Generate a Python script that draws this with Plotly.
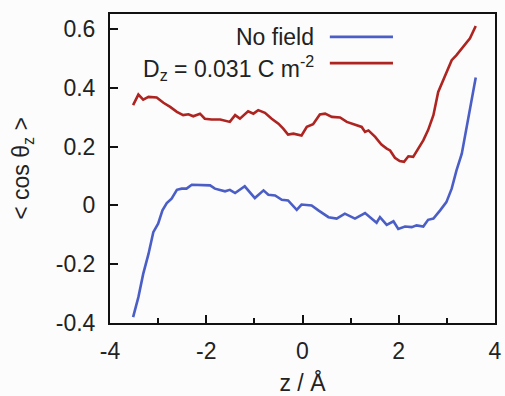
import plotly.graph_objects as go

z_nofield = [-3.52, -3.41, -3.31, -3.20, -3.10, -3.00, -2.91, -2.82, -2.72, -2.61, -2.51, -2.41,
             -2.30, -2.13, -1.92, -1.82, -1.71, -1.61, -1.51, -1.40, -1.20, -0.99, -0.81, -0.71,
             -0.57, -0.43, -0.30, -0.12, -0.02, 0.19, 0.33, 0.54, 0.71, 0.88, 1.09, 1.30, 1.44,
             1.54, 1.61, 1.75, 1.89, 1.99, 2.13, 2.27, 2.37, 2.51, 2.61, 2.72, 2.86, 2.99, 3.10,
             3.20, 3.31, 3.41, 3.51, 3.60]
cos_nofield = [-0.380, -0.312, -0.233, -0.165, -0.091, -0.062, -0.017, 0.008, 0.023, 0.053, 0.057, 0.057,
               0.070, 0.070, 0.068, 0.057, 0.053, 0.048, 0.053, 0.042, 0.065, 0.025, 0.051, 0.036,
               0.034, 0.019, 0.017, -0.015, 0.003, 0.000, -0.017, -0.040, -0.045, -0.028, -0.045, -0.026, -0.045,
               -0.059, -0.040, -0.066, -0.054, -0.080, -0.072, -0.074, -0.068, -0.072, -0.049, -0.045, -0.017, 0.011, 0.057,
               0.119, 0.176, 0.267, 0.358, 0.435]

z_field = [-3.52, -3.41, -3.31, -3.20, -3.03, -2.89, -2.75, -2.61, -2.48, -2.37, -2.27, -2.13, -2.03,
           -1.89, -1.71, -1.51, -1.40, -1.30, -1.13, -1.02, -0.92, -0.78, -0.64, -0.50, -0.40, -0.30,
           -0.19, -0.02, 0.09, 0.22, 0.36, 0.47, 0.61, 0.78, 0.92, 1.09, 1.23, 1.30, 1.37, 1.51, 1.64,
           1.75, 1.82, 1.92, 2.02, 2.11, 2.20, 2.30, 2.41, 2.51, 2.61, 2.72, 2.82, 2.96, 3.10, 3.20,
           3.34, 3.48, 3.60]
cos_field = [0.341, 0.377, 0.360, 0.369, 0.367, 0.349, 0.335, 0.318, 0.307, 0.310, 0.303, 0.312, 0.295,
             0.292, 0.292, 0.284, 0.307, 0.295, 0.320, 0.312, 0.324, 0.315, 0.295, 0.278, 0.261, 0.241,
             0.244, 0.238, 0.267, 0.276, 0.309, 0.312, 0.301, 0.299, 0.284, 0.275, 0.267, 0.250, 0.255, 0.233, 0.207,
             0.193, 0.187, 0.162, 0.151, 0.148, 0.167, 0.165, 0.193, 0.221, 0.256, 0.307, 0.386, 0.437, 0.494, 0.511,
             0.540, 0.568, 0.610]

x_ticks = [-4, -2, 0, 2, 4]
x_ticklabels = ["-4", "-2", "0", "2", "4"]
y_ticks = [-0.4, -0.2, 0, 0.2, 0.4, 0.6]
y_ticklabels = ["-0.4", "-0.2", "0", "0.2", "0.4", "0.6"]

BLUE = "#4a5ec6"
RED = "#ad2420"
FONT = "Liberation Sans, Arial, sans-serif"
FS = 23

fig = go.Figure()
fig.add_trace(go.Scatter(x=z_nofield, y=cos_nofield, mode="lines",
                         line=dict(color=BLUE, width=2.6), name="No field", showlegend=False))
fig.add_trace(go.Scatter(x=z_field, y=cos_field, mode="lines",
                         line=dict(color=RED, width=2.6), name="field", showlegend=False))

# legend (text left, sample line right)
fig.add_annotation(x=0.535, y=0.926, xref="paper", yref="paper", xanchor="right", yanchor="middle",
                   text="No field", showarrow=False, font=dict(size=FS, color="#222", family=FONT))
fig.add_annotation(x=0.535, y=0.826, xref="paper", yref="paper", xanchor="right", yanchor="middle",
                   text="D<sub>z</sub> = 0.031 C m<sup>-2</sup>", showarrow=False,
                   font=dict(size=FS, color="#222", family=FONT))
fig.add_shape(type="line", xref="paper", yref="paper", x0=0.571, x1=0.735, y0=0.926, y1=0.926,
              line=dict(color=BLUE, width=2.6))
fig.add_shape(type="line", xref="paper", yref="paper", x0=0.571, x1=0.735, y0=0.841, y1=0.841,
              line=dict(color=RED, width=2.6))

fig.update_layout(
    width=505, height=396,
    margin=dict(l=110, r=10, t=14, b=73),
    paper_bgcolor="#fcfcfd", plot_bgcolor="#fcfcfd",
    font=dict(family=FONT, size=FS, color="#222"),
    showlegend=False,
)
fig.update_xaxes(range=[-4, 4], tickvals=x_ticks, ticktext=x_ticklabels, ticks="inside", ticklen=8, tickwidth=1.5,
                 tickcolor="#111", showline=True, linecolor="#111", linewidth=2, mirror=True,
                 showgrid=False, zeroline=False, automargin=False, ticklabelstandoff=6,
                 minor=dict(tickvals=[-3, -1, 1, 3], ticks="inside", ticklen=5, tickwidth=1.5, tickcolor="#111"),
                 title=dict(text="z / Å", standoff=25, font=dict(size=FS)))
fig.update_yaxes(range=[-0.4, 0.651], tickvals=y_ticks, ticktext=y_ticklabels, ticks="inside", ticklen=8,
                 tickwidth=1.5, tickcolor="#111", showline=True, linecolor="#111", linewidth=2, mirror=True,
                 showgrid=False, zeroline=False, ticklabelstandoff=8, automargin=False,
                 title=dict(text="< cos θ<sub>z</sub> >", standoff=20, font=dict(size=FS)))

fig.write_html("out.html", config={"displayModeBar": False},
               post_script="document.body.style.margin='0';")
